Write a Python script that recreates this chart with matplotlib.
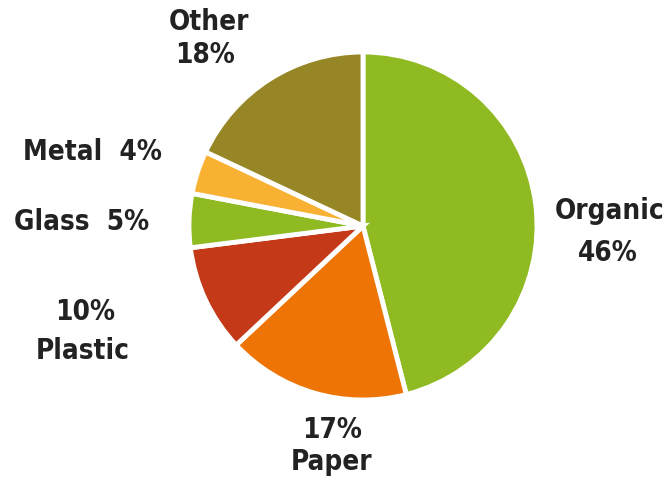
import matplotlib.pyplot as plt

categories = ["Organic", "Paper", "Plastic", "Glass", "Metal", "Other"]
values = [46, 17, 10, 5, 4, 18]
colors = ["#8fba22", "#ee7405", "#c43a19", "#8fba22", "#f8b132", "#968625"]
label_lines = [("Organic", "46%"), ("17%", "Paper"), ("10%", "Plastic"),
               ("Glass  5%",), ("Metal  4%",), ("Other", "18%")]

W, H = 667, 481
fig = plt.figure(figsize=(W / 100, H / 100), dpi=100)
ax = fig.add_axes([0, 0, 1, 1])

ax.pie(values, colors=colors, startangle=90, counterclock=False,
       center=(363, H - 227), radius=174,
       wedgeprops=dict(edgecolor='white', linewidth=3.5, joinstyle='miter'))

ax.set_xlim(0, W)
ax.set_ylim(0, H)
ax.set_aspect('equal')
ax.axis('off')

line_pos = [[(610, 211), (608, 253)], [(332, 430), (332, 462)], [(85, 312), (83, 351)],
            [(82, 222)], [(92, 152)], [(209, 22), (205, 55)]]
for lines, poss in zip(label_lines, line_pos):
    for txt, (x, y) in zip(lines, poss):
        ax.text(x, H - y, txt, ha='center', va='center', fontsize=20, color='#222222',
                family='DejaVu Sans', fontstretch='condensed', fontweight='bold')

fig.savefig("out.png", dpi=100)
